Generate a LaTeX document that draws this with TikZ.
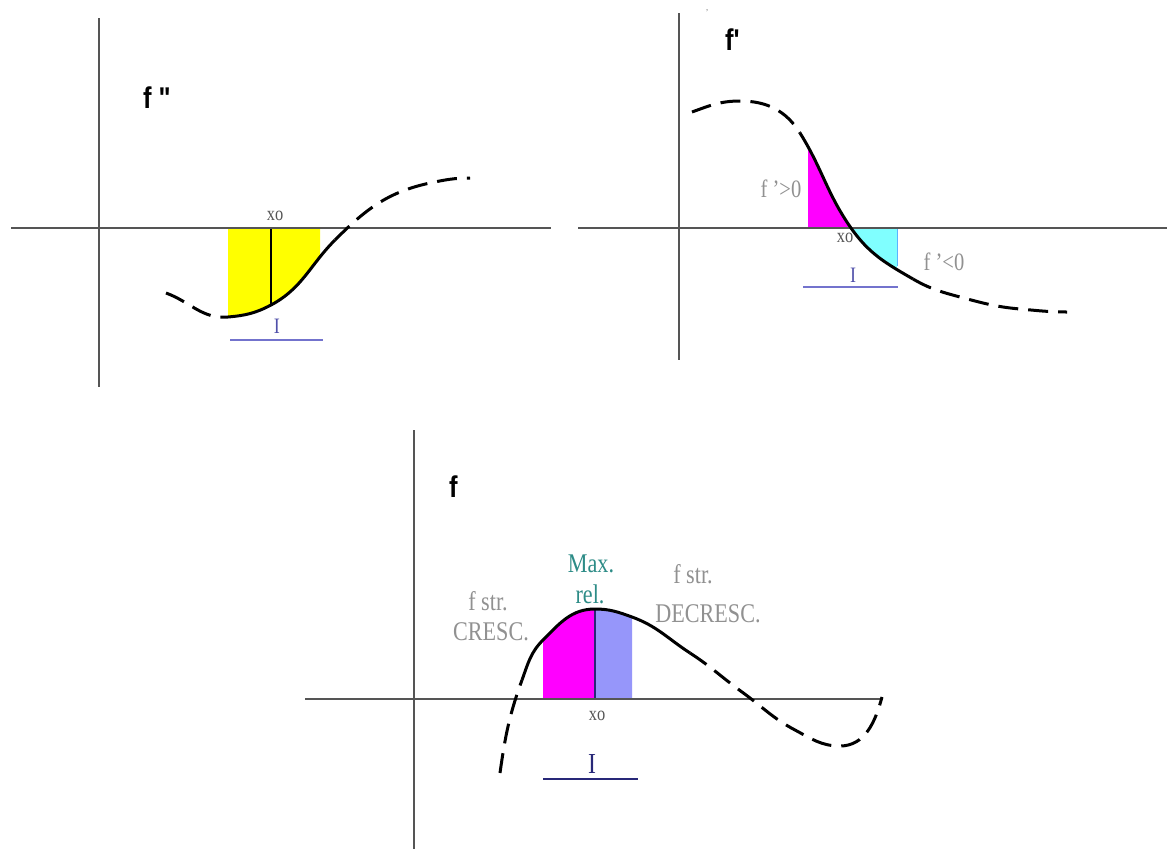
\documentclass[tikz,border=0pt]{standalone}
\usepackage{fontspec}
\setmainfont{Liberation Serif}
\newfontfamily\lsans{Liberation Sans}
\definecolor{axisgray}{RGB}{85,85,85}
\definecolor{txtgray}{RGB}{145,145,145}
\definecolor{xogray}{RGB}{85,85,85}
\definecolor{ilblue}{RGB}{80,80,170}
\definecolor{lineblue}{RGB}{115,115,205}
\definecolor{navy}{RGB}{40,40,120}
\definecolor{tealtxt}{RGB}{45,140,135}
\definecolor{yel}{RGB}{255,255,0}
\definecolor{mag}{RGB}{255,0,255}
\definecolor{cyn}{RGB}{128,255,255}
\definecolor{lav}{RGB}{150,150,250}
\begin{document}
\begin{tikzpicture}[x=1pt,y=-1pt,
  axis/.style={draw=axisgray,line width=2.3pt},
  crv/.style={draw=black,line width=3pt},
  dsh/.style={crv,dash pattern=on 20pt off 10pt},
  lbl/.style={inner sep=0pt,anchor=base,xscale=0.82},
  big/.style={inner sep=0pt,anchor=base west,xscale=0.85,font=\lsans\bfseries\fontsize{30}{30}\selectfont},
  small/.style={lbl,font=\fontsize{20}{20}\selectfont,text=xogray},
  mid/.style={lbl,font=\fontsize{25}{25}\selectfont,text=txtgray},
  txt/.style={lbl,font=\fontsize{27}{27}\selectfont,text=txtgray},
  ilab/.style={lbl,font=\fontsize{22}{22}\selectfont,text=ilblue}
]
\fill[white] (0,0) rectangle (1167,849);
\useasboundingbox (0,0) rectangle (1167,849);

% ---------------- panel 1: f''
\begin{scope}
  \clip (228,200) rectangle (320,340);
  \fill[yel] (228,228) -- (228,317) to[out=5,in=208] (271,305) to[out=28,in=225] (335,240) -- (335,228) -- cycle;
\end{scope}
\draw[line width=1.3pt] (271,228) -- (271,305);
\draw[axis] (99,18) -- (99,387);
\draw[axis] (11,228) -- (551,228);
\draw[dsh] (166,293) to[out=-20,in=185] (228,317);
\draw[crv] (228,317) to[out=5,in=208] (271,305) to[out=28,in=225] (335,240);
\draw[dsh] (335,240) to[out=45,in=192] (430,183) to[out=12,in=180] (470,178);
\node[big] (fpp) at (143,108) {f "};
\node[small] (xo1) at (275,220) {xo};
\node[ilab] (i1) at (277,333) {I};
\draw[lineblue,line width=2pt] (230,340) -- (323,340);

% ---------------- panel 2: f'
\begin{scope}
  \clip (808,100) rectangle (851,240);
  \fill[mag] (800,228) -- (800,133) to[out=-58,in=125] (851,228) -- cycle;
\end{scope}
\begin{scope}
  \clip (851,200) rectangle (897,300);
  \fill[cyn] (851,228) to[out=-55,in=150] (913,279) -- (913,228) -- cycle;
\end{scope}
\draw[cyn!70!blue,line width=0.8pt] (897,228) -- (897,266);
\draw[axis] (679,13) -- (679,360);
\draw[axis] (578,228) -- (1167,228);
\draw[dsh] (692,112) to[out=20,in=180] (740,101) to[out=0,in=122] (800,133);
\draw[crv] (800,133) to[out=-58,in=125] (851,228) to[out=-55,in=150] (913,279);
\draw[dsh] (913,279) to[out=-30,in=165] (960,297) to[out=-15,in=175] (1020,309) to[out=-5,in=180] (1067,312);
\node[big] (fp) at (725,50) {f\textquotesingle};
\node[inner sep=0pt,text=gray,font=\fontsize{9}{9}\selectfont] (tick) at (707,13) {'};
\node[mid] (fpos) at (781,197) {f ’>0};
\node[mid] (fneg) at (944,270) {f ’<0};
\node[small] (xo2) at (845,242) {xo};
\node[ilab] (i2) at (853,282) {I};
\draw[lineblue,line width=2pt] (803,287) -- (898,287);

% ---------------- panel 3: f
\fill[mag] (543,699) -- (543,640) to[out=45,in=180] (595,609) -- (595,699) -- cycle;
\fill[lav] (595,699) -- (595,609) to[out=0,in=160] (632,617) -- (632,699) -- cycle;
\draw[navy,line width=1.5pt] (595,699) -- (595,609);
\draw[axis] (414,430) -- (414,849);
\draw[axis] (305,699) -- (882,699);
\draw[dsh] (500,773) to[out=82,in=250] (522,680);
\draw[crv] (522,680) to[out=70,in=225] (543,640) to[out=45,in=180] (595,609) to[out=0,in=160] (632,617) to[out=-20,in=147] (690,653);
\draw[dsh] (690,653) to[out=-33,in=144] (742,692) to[out=-36,in=152] (795,730) to[out=-28,in=180] (840,746) to[out=0,in=255] (882,697);
\node[big] (f) at (449,497) {f};
\node[txt,text=tealtxt] (max) at (591,572) {Max.};
\node[txt,text=tealtxt] (rel) at (590,603) {rel.};
\node[txt] (fs1) at (488,610) {f str.};
\node[txt] (cre) at (491,640) {CRESC.};
\node[txt] (fs2) at (693,583) {f str.};
\node[txt] (dec) at (708,622) {DECRESC.};
\node[small] (xo3) at (597,720) {xo};
\node[lbl,font=\fontsize{29}{29}\selectfont,text=navy] (i3) at (592,773) {I};
\draw[navy,line width=2pt] (543,779) -- (638,779);
\end{tikzpicture}
\end{document}
